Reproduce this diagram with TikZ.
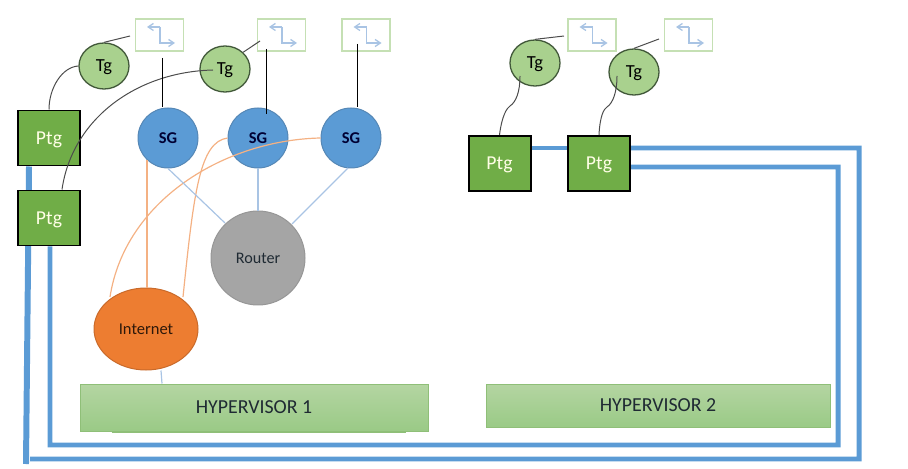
\documentclass[tikz,border=0pt]{standalone}
\usepackage{fontspec}
\setmainfont{Carlito}
\usetikzlibrary{shapes.geometric,backgrounds,calc,arrows.meta}
\definecolor{ptgfill}{HTML}{70AD47}
\definecolor{tgfill}{HTML}{A9D18E}
\definecolor{tgline}{HTML}{42593A}
\definecolor{sgfill}{HTML}{5B9BD5}
\definecolor{sgline}{HTML}{5587B5}
\definecolor{orangefill}{HTML}{ED7D31}
\definecolor{orangelink}{HTML}{F4B183}
\definecolor{greyfill}{HTML}{A5A5A5}
\definecolor{greyline}{HTML}{969696}
\definecolor{lightblue}{HTML}{A9C4E4}
\definecolor{boxline}{HTML}{C5E0B4}
\definecolor{hvtop}{HTML}{B4D5A2}
\definecolor{hvbot}{HTML}{9ACA86}
\definecolor{hvline}{HTML}{8FBF78}
\definecolor{darktext}{HTML}{1F2A33}
\newlength{\pxu}\setlength{\pxu}{0.02cm}
\tikzset{
  px/.style={line width=#1*0.567pt},
  ptgbox/.style={draw=black,px=2,fill=ptgfill,minimum width=62\pxu,minimum height=55\pxu,inner sep=0,text depth=0pt,text=white!90!yellow,font=\fontsize{11.2}{13}\selectfont},
  tgnode/.style={ellipse,draw=tgline,px=1.3,fill=tgfill,minimum width=50\pxu,minimum height=46\pxu,inner sep=0,text depth=0pt,text=black,font=\fontsize{10.5}{12}\selectfont},
  sgnode/.style={circle,draw=sgline,px=1,fill=sgfill,minimum size=60\pxu,inner sep=0,text=black!80!blue,font=\bfseries\fontsize{9.4}{11}\selectfont},
  swbox/.style={draw=boxline,px=1.3,fill=white,minimum width=48\pxu,minimum height=32\pxu,inner sep=0},
  hvbox/.style={draw=hvline,px=1,top color=hvtop,bottom color=hvbot,inner sep=0,text=darktext,font=\fontsize{11.3}{13}\selectfont},
  icon/.style={draw=lightblue,px=1.3,-{Straight Barb[length=3pt,width=4pt]}},
  blk/.style={draw=black,px=1},
  dgr/.style={draw=black!70,px=1},
  orlink/.style={draw=orangelink,px=1.2},
  bllink/.style={draw=lightblue,px=1.2},
  trunk/.style={draw=sgfill,px=#1,line join=miter},
}
\begin{document}
\begin{tikzpicture}[x=0.02cm,y=-0.02cm]
\useasboundingbox (0,0) rectangle (908,469);
% nodes
\node[ptgbox] (ptg1) at (49,138) {Ptg};
\node[ptgbox] (ptg2) at (49,218) {Ptg};
\node[ptgbox] (ptg3) at (499.5,163.5) {Ptg};
\node[ptgbox] (ptg4) at (599,163.5) {Ptg};
\node[tgnode] (tg1) at (104,66) {Tg};
\node[tgnode] (tg2) at (225,69) {Tg};
\node[tgnode] (tg3) at (535,63) {Tg};
\node[tgnode] (tg4) at (634,72) {Tg};
\node[swbox] (b1) at (159.5,35) {};
\node[swbox] (b2) at (281.5,35) {};
\node[swbox] (b3) at (366,35) {};
\node[swbox] (b4) at (592,35) {};
\node[swbox] (b5) at (688.5,35) {};
\node[sgnode] (sg1) at (168,138) {SG};
\node[sgnode] (sg2) at (258,138) {SG};
\node[sgnode] (sg3) at (351,138) {SG};
\node[circle,draw=greyline,px=1,fill=greyfill,minimum size=94\pxu,inner sep=0,text=darktext,font=\fontsize{9.2}{11}\selectfont] (router) at (258,258) {Router};
\node[ellipse,draw=orangefill!85!black,px=1,fill=orangefill,minimum width=104\pxu,minimum height=82\pxu,inner sep=0,text=black!80!orangefill,font=\fontsize{9.4}{11}\selectfont] (inet) at (146,329) {Internet};
\node[hvbox,minimum width=348\pxu,minimum height=47\pxu] (hv1) at (254,407.5) {HYPERVISOR 1};
\node[hvbox,minimum width=344\pxu,minimum height=43\pxu] (hv2) at (658,405.5) {HYPERVISOR 2};
\draw[draw=hvline,px=1] ($(hv1.south west)+(32,1)$) -- ($(hv1.south east)+(-23,1)$);
% icons inside the boxes
\foreach \b in {b1,b2,b3,b4,b5}{
  \draw[icon] ($(\b.center)+(0.5,-8)$) -- ++(-13,0);
  \draw[icon] ($(\b.center)+(0.5,-8)$) -- ++(0,16) -- ++(15,0);
}
% free ends
\coordinate (e1) at (130,36);
\coordinate (e2) at (260,41);
\coordinate (e3) at (564,36);
\coordinate (e4) at (659,39);
\coordinate (s1) at (162,58);
\coordinate (s2) at (266,49);
\coordinate (s3) at (357,44);
\coordinate (w3) at (520,76);
\coordinate (w4) at (617,76);
\coordinate (t2) at (213,70);
% trunk links
\begin{scope}[on background layer]
  \coordinate (a1) at (859,148);
  \coordinate (a2) at (859,459);
  \coordinate (a3) at (26,459);
  \coordinate (c1) at (838,167);
  \coordinate (c2) at (838,445);
  \coordinate (c3) at (50,445);
  \draw[trunk=5] ($(ptg3.north east)+(0,13)$) -- ($(ptg4.north west)+(0,13)$);
  \draw[trunk=5] ($(ptg4.north east)+(0,13)$) -- (a1) -- (a2) -- (30,459);
  \draw[trunk=6] (ptg1.south -| 29,0) -- (26,464);
  \draw[trunk=5] ($(ptg4.north east)+(0,32)$) -- (c1) -- (c2) -- (c3) -- (ptg2.south -| 50,0);
\end{scope}
% black links
\draw[dgr] (ptg1.north) .. controls (49,88) and (62,67) .. (tg1.west);
\draw[dgr] (tg1.north) -- (e1);
\draw[dgr] (ptg2.north -| 62,0) .. controls (72,120) and (135,72) .. (t2);
\draw[dgr] (tg2.north east) -- (e2);
\draw[blk] (s1) -- (s1 |- sg1.north);
\draw[blk] (s2) -- ($(s2 |- sg2.north)+(0,7)$);
\draw[blk] (s3) -- (s3 |- sg3.north);
\draw[dgr] (ptg3.north) .. controls (502,115) and (507,108) .. (510,106) .. controls (516,102) and (520,92) .. (w3);
\draw[dgr] (ptg4.north) .. controls (600,115) and (604,109) .. (607,107) .. controls (613,103) and (617,92) .. (w4);
\draw[dgr] (tg3.north) -- (e3);
\draw[dgr] (tg4.north) -- (e4);
% orange links
\draw[orlink] (147,160) -- (inet.north -| 147,0);
\draw[orlink] (sg2.west) .. controls (200,142) and (194,190) .. (183,297);
\draw[orlink] (sg3.west) .. controls (225,140) and (125,200) .. (110,297);
% light blue links
\draw[bllink] (sg1.south) -- (225,223);
\draw[bllink] (sg2.south) -- (router.north);
\draw[bllink] (348,168) -- (292,224);
\draw[bllink] (inet.south -| 161,0) -- (hv1.north -| 162,0);
\end{tikzpicture}
\end{document}
